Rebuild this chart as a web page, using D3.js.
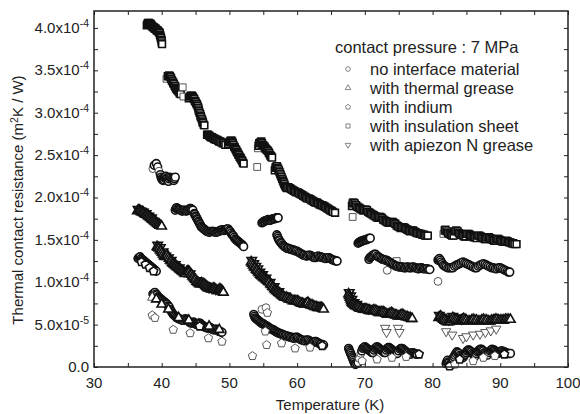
<!DOCTYPE html>
<html>
<head>
<meta charset="utf-8">
<script src="https://cdn.jsdelivr.net/npm/d3@7"></script>
<style>
  body { margin: 0; background: #fff; }
  text { font-family: "Liberation Sans", Arial, sans-serif; fill: #222; }
</style>
</head>
<body>
<svg id="chart" width="580" height="414"></svg>
<script>
// resistance values are in units of 1e-4 m2K/W, temperature in K
var xTicks = [30, 40, 50, 60, 70, 80, 90, 100];
var yTicks = [0, 0.5, 1.0, 1.5, 2.0, 2.5, 3.0, 3.5, 4.0];

var legendTitle = "contact pressure : 7 MPa";
var seriesNames = ["no interface material", "with thermal grease", "with indium",
                   "with insulation sheet", "with apiezon N grease"];

var insulationSheet = [
  [37.8,4.03],[37.9,4.05],[38.0,4.06],[38.15,4.06],[38.3,4.05],[38.4,4.04],[38.5,4.03],[38.6,4.02],[38.7,4.01],[38.8,4.01],[38.9,4.00],[39.0,3.99],[39.1,3.99],[39.2,3.98],[39.3,3.97],[39.4,3.97],[39.5,3.96],[39.6,3.95],[39.7,3.94],[39.75,3.92],[39.8,3.91],[39.85,3.89],[39.9,3.88],[39.95,3.86],[40.0,3.85],[40.0,3.83],[40.05,3.81],
  [40.7,3.40],[40.9,3.43],[41.1,3.44],[41.2,3.43],[41.3,3.42],[41.4,3.40],[41.5,3.38],[41.6,3.37],[41.7,3.35],[41.8,3.34],[41.9,3.32],[42.0,3.31],[42.1,3.29],[42.2,3.28],[42.3,3.27],[42.4,3.26],[42.5,3.25],[42.65,3.23],[42.8,3.22],[43.1,3.30],[43.2,3.19],
  [44.0,3.17],[44.15,3.19],[44.3,3.20],[44.45,3.20],[44.6,3.19],[44.7,3.17],[44.8,3.16],[44.9,3.14],[45.0,3.13],[45.1,3.11],[45.2,3.10],[45.3,3.08],[45.4,3.06],[45.45,3.04],[45.5,3.02],[45.6,3.00],[45.7,2.98],[45.75,2.96],[45.8,2.95],[45.9,2.93],[46.0,2.91],[46.05,2.89],[46.1,2.88],[46.2,2.86],[46.3,2.85],
  [46.7,2.74],[46.85,2.74],[47.0,2.73],[47.15,2.72],[47.3,2.71],[47.45,2.71],[47.6,2.70],[47.75,2.69],[47.9,2.69],[48.05,2.68],[48.2,2.68],[48.35,2.67],[48.5,2.66],[48.65,2.66],[48.8,2.65],[49.0,2.64],[49.2,2.64],[49.4,2.62],
  [49.8,2.63],[49.95,2.65],[50.1,2.66],[50.2,2.67],[50.3,2.67],[50.4,2.66],[50.5,2.64],[50.6,2.62],[50.7,2.60],[50.8,2.59],[50.9,2.57],[51.0,2.56],[51.1,2.54],[51.2,2.53],[51.3,2.51],[51.4,2.50],[51.5,2.48],[51.6,2.47],[51.7,2.46],[51.8,2.44],[51.9,2.43],[52.0,2.41],[52.1,2.40],
  [54.1,2.36],
  [54.2,2.58],[54.3,2.61],[54.4,2.64],[54.55,2.65],[54.7,2.66],[54.8,2.64],[54.9,2.62],[55.05,2.61],[55.2,2.60],[55.3,2.58],[55.4,2.57],[55.55,2.56],[55.7,2.55],[55.8,2.53],[55.9,2.52],[56.0,2.50],[56.1,2.49],[56.2,2.48],[56.3,2.47],
  [56.7,2.32],[56.8,2.35],[56.9,2.36],[57.0,2.37],[57.1,2.35],[57.2,2.34],[57.3,2.32],[57.4,2.30],[57.5,2.28],[57.6,2.26],[57.7,2.24],[57.8,2.22],[57.9,2.20],[58.0,2.18],[58.1,2.16],[58.2,2.14],[58.35,2.12],[58.5,2.11],
  [58.7,2.12],[58.9,2.11],[59.1,2.10],[59.3,2.09],[59.5,2.08],[59.7,2.07],[59.9,2.06],[60.1,2.06],[60.3,2.05],[60.5,2.04],[60.7,2.03],[60.9,2.02],[61.1,2.01],[61.3,2.00],[61.5,1.99],[61.7,1.99],[61.9,1.98],[62.1,1.97],[62.3,1.96],[62.5,1.95],[62.7,1.94],[62.9,1.94],[63.1,1.93],[63.3,1.92],[63.5,1.91],[63.7,1.91],[63.9,1.90],[64.1,1.89],[64.3,1.88],[64.5,1.87],[64.7,1.86],[64.9,1.85],[65.1,1.84],[65.3,1.83],[65.6,1.82],
  [68.2,1.77],[68.1,1.90],[68.2,1.93],[68.3,1.94],[68.5,1.93],[68.7,1.91],[68.9,1.89],[69.1,1.88],[69.3,1.87],[69.5,1.86],[69.7,1.85],[69.9,1.85],[70.1,1.86],[70.3,1.85],[70.5,1.83],[70.7,1.82],[70.9,1.81],[71.1,1.80],[71.3,1.79],[71.5,1.78],[71.7,1.77],[71.9,1.76],[72.1,1.77],[72.3,1.77],[72.5,1.76],[72.7,1.74],[72.9,1.73],[73.1,1.72],[73.3,1.71],[73.5,1.70],[73.7,1.70],[73.9,1.71],[74.1,1.71],[74.3,1.70],[74.5,1.69],[74.7,1.67],[74.9,1.66],[75.1,1.65],[75.3,1.64],[75.5,1.65],[75.7,1.65],[75.9,1.64],[76.1,1.63],[76.3,1.62],[76.5,1.61],[76.7,1.60],[76.9,1.61],[77.1,1.61],[77.3,1.60],[77.5,1.59],[77.7,1.58],[77.9,1.58],[78.1,1.57],[78.3,1.57],[78.5,1.56],[78.7,1.56],[78.9,1.55],[79.1,1.55],[79.3,1.55],
  [74.7,1.25],
  [81.6,1.57],[81.8,1.61],[81.9,1.62],[82.1,1.60],[82.3,1.58],[82.5,1.57],[82.7,1.56],[82.9,1.55],[83.1,1.55],[83.3,1.60],[83.5,1.61],[83.7,1.60],[83.9,1.58],[84.1,1.57],[84.3,1.56],[84.5,1.55],[84.7,1.54],[84.9,1.54],[85.1,1.57],[85.3,1.57],[85.5,1.56],[85.7,1.55],[85.9,1.54],[86.1,1.53],[86.3,1.53],[86.5,1.52],[86.7,1.55],[86.9,1.55],[87.1,1.54],[87.3,1.53],[87.5,1.52],[87.7,1.51],[87.9,1.51],[88.1,1.53],[88.3,1.53],[88.5,1.52],[88.7,1.51],[88.9,1.50],[89.1,1.49],[89.3,1.49],[89.5,1.51],[89.7,1.51],[89.9,1.50],[90.1,1.49],[90.3,1.48],[90.5,1.48],[90.7,1.48],[90.9,1.49],[91.1,1.48],[91.3,1.47],[91.5,1.47],[91.7,1.46],[91.9,1.46],[92.1,1.45],[92.4,1.45]
];

var noInterface = [
  [38.7,2.34],[38.9,2.38],[39.2,2.40],[39.4,2.36],[39.6,2.31],[39.8,2.27],[39.9,2.24],[40.0,2.22],[40.1,2.21],[40.2,2.20],[40.3,2.21],[40.4,2.23],[40.5,2.24],[40.6,2.25],[40.7,2.23],[40.8,2.22],[40.9,2.20],[41.0,2.19],[41.1,2.22],[41.2,2.24],[41.35,2.23],[41.5,2.22],[41.65,2.21],[41.8,2.20],[41.9,2.22],[42.0,2.24],
  [42.0,1.85],[42.1,1.87],[42.2,1.88],[42.35,1.87],[42.5,1.86],[42.65,1.86],[42.8,1.85],[42.95,1.84],[43.1,1.84],[43.25,1.85],[43.4,1.85],[43.55,1.84],[43.7,1.84],[43.85,1.85],[44.0,1.86],[44.15,1.87],[44.3,1.87],[44.45,1.86],[44.6,1.85],
  [44.8,1.81],[44.9,1.80],[45.0,1.78],[45.1,1.77],[45.2,1.75],[45.3,1.74],[45.4,1.72],[45.5,1.71],[45.6,1.69],[45.7,1.68],[45.8,1.66],[45.9,1.65],[46.05,1.64],[46.2,1.63],[46.35,1.62],[46.5,1.61],[46.65,1.60],[46.8,1.60],[46.95,1.59],[47.1,1.59],[47.25,1.60],[47.4,1.60],
  [47.55,1.60],[47.7,1.60],[47.85,1.59],[48.0,1.59],[48.15,1.59],[48.3,1.60],[48.45,1.60],[48.6,1.61],[48.75,1.61],[48.9,1.62],[49.05,1.61],[49.2,1.61],[49.35,1.62],[49.5,1.62],[49.65,1.63],[49.8,1.63],
  [49.95,1.61],[50.1,1.60],[50.25,1.58],[50.4,1.56],[50.55,1.55],[50.7,1.53],[50.85,1.51],[51.0,1.50],[51.15,1.49],[51.3,1.48],[51.45,1.47],[51.6,1.46],[51.75,1.45],[51.9,1.44],[52.0,1.43],[52.1,1.42],
  [54.8,1.70],[54.95,1.71],[55.1,1.72],[55.25,1.72],[55.4,1.73],[55.55,1.73],[55.7,1.74],[55.85,1.73],[56.0,1.73],[56.15,1.74],[56.3,1.74],[56.45,1.75],[56.6,1.75],[56.75,1.75],[56.9,1.76],[57.05,1.76],[57.2,1.76],
  [57.0,1.56],[57.1,1.54],[57.2,1.52],[57.3,1.50],[57.4,1.49],[57.55,1.47],[57.7,1.46],[57.85,1.44],[58.0,1.43],[58.15,1.42],[58.3,1.41],[58.5,1.40],[58.7,1.40],[58.9,1.39],[59.1,1.39],[59.3,1.38],[59.5,1.38],[59.7,1.37],[59.9,1.37],[60.1,1.36],[60.3,1.35],[60.5,1.34],[60.7,1.33],[60.9,1.32],[61.1,1.32],[61.3,1.31],[61.5,1.31],[61.7,1.32],[61.9,1.32],[62.1,1.31],[62.3,1.30],[62.5,1.29],[62.7,1.29],[62.9,1.30],[63.1,1.31],[63.3,1.30],[63.5,1.30],[63.7,1.29],[63.9,1.29],[64.1,1.28],[64.3,1.28],[64.5,1.29],[64.7,1.29],[64.9,1.28],[65.1,1.27],[65.3,1.26],[65.5,1.26],[65.7,1.25],[65.9,1.25],
  [69.0,1.46],[69.15,1.47],[69.3,1.48],[69.45,1.48],[69.6,1.49],[69.75,1.49],[69.9,1.50],[70.05,1.50],[70.2,1.50],[70.35,1.51],[70.5,1.51],[70.65,1.52],[70.8,1.52],
  [73.3,1.14],
  [70.6,1.27],[70.75,1.29],[70.9,1.30],[71.05,1.31],[71.2,1.32],[71.4,1.33],[71.6,1.33],[71.8,1.31],[72.0,1.30],[72.2,1.29],[72.4,1.28],[72.6,1.27],[72.8,1.27],[73.0,1.26],[73.2,1.26],[73.4,1.25],[73.6,1.24],[73.8,1.23],[74.0,1.22],[74.2,1.21],[74.4,1.20],[74.6,1.19],[74.8,1.19],[75.0,1.18],[75.2,1.18],[75.4,1.18],[75.6,1.18],[75.8,1.17],[76.0,1.17],[76.2,1.18],[76.4,1.18],[76.6,1.17],[76.8,1.17],[77.0,1.18],[77.2,1.18],[77.4,1.17],[77.6,1.17],[77.8,1.16],[78.0,1.16],[78.2,1.17],[78.4,1.17],[78.6,1.16],[78.8,1.16],[79.0,1.16],[79.2,1.16],[79.4,1.15],[79.6,1.15],
  [80.8,1.01],
  [80.8,1.26],[80.9,1.27],[81.0,1.28],[81.15,1.26],[81.3,1.24],[81.45,1.22],[81.6,1.20],[81.8,1.19],[82.0,1.18],[82.25,1.17],[82.5,1.17],[82.75,1.17],[83.0,1.17],[83.25,1.19],[83.5,1.20],[83.75,1.21],[84.0,1.22],[84.25,1.23],[84.5,1.24],[84.75,1.23],[85.0,1.22],[85.25,1.21],[85.5,1.20],[85.75,1.19],[86.0,1.18],[86.25,1.17],[86.5,1.17],[86.75,1.19],[87.0,1.20],[87.25,1.21],[87.5,1.22],[87.75,1.21],[88.0,1.20],[88.25,1.19],[88.5,1.18],[88.75,1.17],[89.0,1.17],[89.25,1.16],[89.5,1.16],[89.75,1.17],[90.0,1.17],[90.25,1.16],[90.5,1.15],[90.75,1.14],[91.0,1.13],[91.2,1.12],[91.4,1.12],
  [36.5,1.28],[36.65,1.29],[36.8,1.30],[36.95,1.28],[37.1,1.27],[37.25,1.26],[37.4,1.25],[37.55,1.24],[37.7,1.23],[37.85,1.22],[38.0,1.21],[38.15,1.20],[38.3,1.19],[38.45,1.18],[38.6,1.17],[38.75,1.16],[38.9,1.15],[39.05,1.14],[39.2,1.13],
  [38.7,0.86],[38.85,0.87],[39.0,0.88],[39.15,0.86],[39.3,0.85],[39.45,0.83],[39.6,0.82],[39.75,0.81],[39.9,0.80],[40.05,0.79],[40.2,0.78],[40.35,0.77],[40.5,0.76],[40.65,0.75],[40.8,0.74],[40.95,0.72],[41.1,0.71],[41.25,0.68],[41.4,0.66],[41.55,0.64],[41.7,0.62],[41.85,0.61],[42.0,0.60],[42.15,0.59],[42.3,0.58],[42.45,0.57],[42.6,0.57],[42.75,0.56],[42.9,0.56],[43.05,0.55],[43.2,0.55],[43.35,0.56],[43.5,0.57],[43.65,0.56],[43.8,0.55],[43.95,0.54],[44.1,0.53],[44.25,0.52],[44.4,0.52],[44.55,0.52],[44.7,0.53],[44.85,0.52],[45.0,0.51],[45.15,0.50],[45.3,0.50],[45.45,0.51],[45.6,0.52],[45.75,0.51],[45.9,0.50],[46.05,0.49],[46.2,0.48],[46.35,0.47],[46.5,0.47],[46.65,0.46],[46.8,0.46],[46.95,0.46],[47.1,0.47],[47.25,0.46],[47.4,0.45],[47.55,0.44],[47.7,0.44],[47.85,0.44],[48.0,0.45],[48.15,0.44],[48.3,0.43],[48.45,0.42],[48.6,0.42],[48.75,0.41],[48.9,0.41],
  [54.8,0.68],[55.4,0.70],
  [53.6,0.62],[53.7,0.60],[53.8,0.58],[53.95,0.57],[54.1,0.56],[54.25,0.55],[54.4,0.54],[54.55,0.53],[54.7,0.52],[54.85,0.51],[55.0,0.51],[55.15,0.50],[55.3,0.49],[55.45,0.48],[55.6,0.48],[55.75,0.47],[55.9,0.46],[56.05,0.45],[56.2,0.45],[56.35,0.44],[56.5,0.44],[56.65,0.43],[56.8,0.42],[56.95,0.41],[57.1,0.41],[57.25,0.40],[57.4,0.40],[57.55,0.39],[57.7,0.39],[57.85,0.38],[58.0,0.38],[58.2,0.37],[58.4,0.37],[58.6,0.36],[58.8,0.36],[59.0,0.35],[59.2,0.35],[59.4,0.34],[59.6,0.34],[59.8,0.35],[60.0,0.35],[60.2,0.34],[60.4,0.33],[60.6,0.32],[60.8,0.32],[61.0,0.31],[61.2,0.31],[61.4,0.32],[61.6,0.32],[61.8,0.31],[62.0,0.30],[62.2,0.29],[62.4,0.29],[62.6,0.30],[62.8,0.30],[63.0,0.29],[63.2,0.28],[63.4,0.27],[63.6,0.27],[63.8,0.26],[63.9,0.26],
  [67.6,0.22],[67.7,0.20],[67.8,0.18],[67.9,0.16],[68.0,0.14],[68.1,0.12],[68.2,0.10],[68.3,0.08],[68.4,0.06],[68.5,0.04],[68.6,0.03],[68.8,0.04],[69.0,0.05],[69.2,0.10],[69.4,0.16],[69.55,0.19],[69.7,0.22],[69.85,0.23],[70.0,0.24],[70.15,0.23],[70.3,0.22],[70.45,0.21],[70.6,0.20],[70.75,0.19],[70.9,0.18],[71.05,0.17],[71.2,0.17],[71.35,0.20],[71.5,0.22],[71.65,0.23],[71.8,0.24],[71.95,0.23],[72.1,0.22],[72.25,0.21],[72.4,0.20],[72.55,0.19],[72.7,0.18],[72.85,0.17],[73.0,0.17],[73.15,0.20],[73.3,0.22],[73.45,0.23],[73.6,0.23],[73.75,0.22],[73.9,0.21],[74.05,0.20],[74.2,0.19],[74.35,0.18],[74.5,0.17],[74.65,0.16],[74.8,0.16],[75.0,0.19],[75.2,0.21],[75.35,0.22],[75.5,0.22],[75.65,0.21],[75.8,0.20],[75.95,0.19],[76.1,0.18],[76.25,0.17],[76.4,0.16],[76.6,0.15],[76.8,0.15],[76.95,0.17],[77.1,0.17],[77.25,0.16],[77.4,0.16],[77.55,0.15],[77.7,0.15],
  [82.0,0.04],[82.1,0.06],[82.2,0.08],[82.3,0.06],[82.4,0.05],[82.55,0.03],[82.7,0.02],[82.85,0.06],[83.0,0.10],[83.15,0.12],[83.3,0.14],[83.45,0.16],[83.6,0.18],[83.75,0.17],[83.9,0.16],[84.05,0.14],[84.2,0.13],[84.35,0.12],[84.5,0.11],[84.65,0.13],[84.8,0.15],[84.95,0.17],[85.1,0.19],[85.25,0.20],[85.4,0.20],[85.55,0.19],[85.7,0.18],[85.85,0.16],[86.0,0.15],[86.15,0.14],[86.3,0.13],[86.45,0.16],[86.6,0.18],[86.75,0.19],[86.9,0.20],[87.05,0.21],[87.2,0.21],[87.35,0.20],[87.5,0.19],[87.65,0.17],[87.8,0.16],[87.95,0.15],[88.1,0.14],[88.3,0.17],[88.5,0.19],[88.65,0.20],[88.8,0.21],[88.95,0.20],[89.1,0.20],[89.25,0.19],[89.4,0.18],[89.55,0.17],[89.7,0.16],[89.85,0.17],[90.0,0.18],[90.15,0.19],[90.3,0.19],[90.45,0.18],[90.6,0.18],[90.75,0.17],[90.9,0.17],[91.05,0.16],[91.2,0.16],[91.35,0.16],[91.5,0.16]
];

var thermalGrease = [
  [36.4,1.84],[36.55,1.85],[36.7,1.85],[36.85,1.84],[37.0,1.83],[37.15,1.83],[37.3,1.82],[37.45,1.81],[37.6,1.80],[37.75,1.80],[37.9,1.79],[38.05,1.78],[38.2,1.77],[38.35,1.76],[38.5,1.75],[38.65,1.74],[38.8,1.73],[38.95,1.72],[39.1,1.71],[39.25,1.70],[39.4,1.69],[39.55,1.68],[39.7,1.67],[39.85,1.67],[40.0,1.66],
  [39.3,1.42],[39.45,1.41],[39.6,1.40],[39.75,1.38],[39.9,1.37],[40.05,1.35],[40.2,1.33],[40.35,1.31],[40.5,1.30],[40.65,1.31],[40.8,1.32],[40.95,1.30],[41.1,1.28],[41.25,1.26],[41.4,1.25],[41.55,1.23],[41.7,1.22],[41.85,1.21],[42.0,1.20],[42.15,1.19],[42.3,1.18],[42.45,1.17],[42.6,1.16],[42.75,1.15],[42.9,1.14],[43.05,1.13],[43.2,1.12],[43.35,1.11],[43.5,1.10],[43.65,1.12],[43.8,1.13],[43.95,1.13],[44.1,1.12],[44.25,1.10],[44.4,1.09],[44.55,1.07],[44.7,1.06],[44.85,1.04],[45.0,1.03],[45.15,1.01],[45.3,1.00],[45.45,0.99],[45.6,0.98],[45.75,0.98],[45.9,0.99],[46.05,0.98],[46.2,0.98],[46.35,0.97],[46.5,0.96],[46.65,0.95],[46.8,0.94],[46.95,0.93],[47.1,0.93],[47.25,0.92],[47.4,0.92],[47.55,0.92],[47.7,0.93],[47.85,0.92],[48.0,0.91],[48.15,0.90],[48.3,0.90],[48.45,0.91],[48.6,0.92],[48.75,0.91],[48.9,0.90],[49.0,0.89],[49.1,0.88],
  [38.6,0.82],[39.2,0.80],[40.0,0.74],[41.0,0.68],[42.5,0.58],[44.0,0.55],[45.5,0.50],[47.0,0.48],[48.5,0.44],
  [53.2,1.24],[53.35,1.22],[53.5,1.20],[53.65,1.18],[53.8,1.17],[53.95,1.15],[54.1,1.14],[54.25,1.12],[54.4,1.11],[54.55,1.09],[54.7,1.08],[54.85,1.07],[55.0,1.06],[55.15,1.05],[55.3,1.04],[55.45,1.03],[55.6,1.02],[55.75,1.01],[55.9,1.00],[56.05,0.98],[56.2,0.97],[56.35,0.95],[56.5,0.94],[56.65,0.92],[56.8,0.91],[56.95,0.90],[57.1,0.89],[57.25,0.88],[57.4,0.87],[57.55,0.86],[57.7,0.85],[57.85,0.84],[58.0,0.83],[58.2,0.82],[58.4,0.82],[58.6,0.81],[58.8,0.80],[59.0,0.80],[59.2,0.79],[59.4,0.78],[59.6,0.78],[59.8,0.78],[60.0,0.78],[60.2,0.77],[60.4,0.76],[60.6,0.75],[60.8,0.75],[61.0,0.74],[61.2,0.74],[61.4,0.75],[61.6,0.76],[61.8,0.74],[62.0,0.73],[62.2,0.73],[62.4,0.72],[62.6,0.71],[62.8,0.71],[63.0,0.70],[63.2,0.70],[63.4,0.70],[63.6,0.70],[63.75,0.69],[63.9,0.68],
  [67.6,0.86],[67.7,0.84],[67.8,0.82],[67.9,0.80],[68.0,0.78],[68.1,0.76],[68.2,0.75],[68.35,0.74],[68.5,0.73],[68.65,0.72],[68.8,0.72],[68.95,0.71],[69.1,0.70],[69.3,0.69],[69.5,0.69],[69.7,0.68],[69.9,0.68],[70.1,0.68],[70.3,0.68],[70.5,0.67],[70.7,0.67],[70.9,0.66],[71.1,0.66],[71.3,0.67],[71.5,0.67],[71.7,0.66],[71.9,0.65],[72.1,0.64],[72.3,0.64],[72.5,0.65],[72.7,0.65],[72.9,0.64],[73.1,0.63],[73.3,0.62],[73.5,0.62],[73.7,0.63],[73.9,0.64],[74.1,0.63],[74.3,0.62],[74.5,0.61],[74.7,0.61],[74.9,0.60],[75.1,0.60],[75.3,0.61],[75.5,0.62],[75.7,0.61],[75.9,0.60],[76.1,0.59],[76.3,0.59],[76.5,0.58],[76.7,0.58],[76.85,0.57],[77.0,0.57],
  [80.9,0.58],[81.05,0.59],[81.2,0.60],[81.35,0.58],[81.5,0.57],[81.65,0.56],[81.8,0.55],[82.0,0.54],[82.2,0.53],[82.4,0.53],[82.6,0.54],[82.8,0.56],[83.0,0.58],[83.2,0.57],[83.4,0.56],[83.6,0.55],[83.8,0.54],[84.0,0.54],[84.2,0.55],[84.4,0.56],[84.6,0.57],[84.8,0.56],[85.0,0.55],[85.25,0.54],[85.5,0.54],[85.75,0.55],[86.0,0.56],[86.25,0.55],[86.5,0.55],[86.75,0.54],[87.0,0.54],[87.25,0.55],[87.5,0.56],[87.75,0.55],[88.0,0.55],[88.25,0.54],[88.5,0.54],[88.75,0.55],[89.0,0.55],[89.25,0.56],[89.5,0.56],[89.75,0.55],[90.0,0.55],[90.25,0.55],[90.5,0.55],[90.75,0.56],[91.0,0.56],[91.25,0.56],[91.5,0.56]
];

var indium = [
  [37.0,1.24],[37.6,1.21],[38.2,1.17],[38.8,1.13],
  [38.6,0.61],[39.0,0.58],[41.7,0.44],[44.2,0.40],[45.6,0.48],[46.9,0.34],[48.9,0.30],
  [53.4,0.13],[55.3,0.42],[55.6,0.64],[55.5,0.26],[57.7,0.28],[59.7,0.22],[61.9,0.23],[63.7,0.25],
  [69.6,0.07],[71.8,0.09],[74.0,0.11],[76.1,0.12],[78.0,0.15],
  [82.5,0.01],[83.3,0.03],[84.0,0.09],[86.0,0.07],[87.5,0.11],[89.2,0.13],[90.6,0.15]
];

var apiezon = [
  [36.5,1.86],[36.9,1.84],[37.3,1.83],[37.7,1.81],[38.1,1.78],[38.5,1.76],[38.9,1.72],
  [39.4,1.44],[39.8,1.41],[40.2,1.36],[40.6,1.31],[41.0,1.29],[41.4,1.26],[42.0,1.21],[42.6,1.17],[43.3,1.13],[44.2,1.10],[45.1,1.02],[46.0,0.97],[47.0,0.94],[48.0,0.92],
  [53.3,1.26],[53.6,1.22],[53.9,1.19],[54.2,1.16],[54.5,1.12],[54.9,1.09],[55.4,1.05],[56.0,1.00],[56.6,0.95],[57.3,0.89],[58.2,0.84],
  [67.7,0.88],[67.9,0.84],[68.1,0.80],[68.4,0.76],[68.8,0.74],[69.3,0.71],[69.9,0.70],[70.6,0.69],[71.5,0.68],
  [73.0,0.46],[73.2,0.41],[74.9,0.46],[75.1,0.41],
  [81.0,0.61],[81.4,0.59],[81.9,0.57],[82.4,0.56],[83.0,0.60],[83.6,0.58],[84.3,0.57],
  [82.0,0.42],[82.9,0.38],[84.5,0.34],[85.0,0.36],[86.0,0.38],[87.0,0.39],[87.8,0.41],[88.6,0.43],[89.4,0.45]
];

var svg = d3.select("#chart");
var mLeft = 94, mRight = 568, mTop = 11, mBottom = 367;

var x = d3.scaleLinear().domain([30, 100]).range([mLeft, mRight]);
var y = d3.scaleLinear().domain([0, 4.2]).range([mBottom, mTop]);

var ink = "#222";

// pentagon path
function pentagon(r) {
  var p = [];
  for (var i = 0; i < 5; i++) {
    var a = -Math.PI / 2 + i * 2 * Math.PI / 5;
    p.push([r * Math.cos(a), r * Math.sin(a)]);
  }
  return "M" + p.map(function(d){ return d[0].toFixed(2) + "," + d[1].toFixed(2); }).join("L") + "Z";
}

var shapes = {
  circle: function(s) { return d3.symbol().type(d3.symbolCircle).size(48 * s * s)(); },
  triangle: function(s) { return d3.symbol().type(d3.symbolTriangle).size(38 * s * s)(); },
  pentagon: function(s) { return pentagon(4.4 * s); },
  square: function(s) { return d3.symbol().type(d3.symbolSquare).size(46 * s * s)(); },
  down: function(s) { return d3.symbol().type(d3.symbolTriangle).size(38 * s * s)(); }
};

var series = [
  { name: seriesNames[3], data: insulationSheet, shape: "square" },
  { name: seriesNames[0], data: noInterface, shape: "circle" },
  { name: seriesNames[4], data: apiezon, shape: "down" },
  { name: seriesNames[1], data: thermalGrease, shape: "triangle" },
  { name: seriesNames[2], data: indium, shape: "pentagon" }
];

// count close neighbours (in pixels) over all series, so that dense runs are drawn heavier
var allPx = [];
series.forEach(function(s) {
  s.data.forEach(function(d) { allPx.push([x(d[0]), y(d[1])]); });
});
function crowd(px, py) {
  var n = 0;
  allPx.forEach(function(p) {
    var dx = p[0] - px, dy = p[1] - py;
    if (dx * dx + dy * dy < 16) n++;
  });
  return n - 1;
}

var plot = svg.append("g");

series.forEach(function(s) {
  var path = shapes[s.shape](1);
  plot.append("g").selectAll("path")
    .data(s.data)
    .enter().append("path")
    .attr("d", path)
    .attr("transform", function(d) {
      return "translate(" + x(d[0]) + "," + y(d[1]) + ")" + (s.shape === "down" ? " rotate(180)" : "");
    })
    .attr("fill", "#fff")
    .each(function(d) {
      var c = crowd(x(d[0]), y(d[1]));
      d3.select(this)
        .attr("stroke", c >= 2 ? "#111" : "#444")
        .attr("stroke-width", c >= 2 ? 1.6 : 0.9);
    });
});

// axes with inward ticks
var xMinor = d3.range(30, 101, 5);
var yMinor = d3.range(0, 4.21, 0.25);

svg.append("g").attr("transform", "translate(0," + mBottom + ")")
  .call(d3.axisBottom(x).tickValues(xMinor).tickSize(-4).tickFormat(""));
svg.append("g").attr("transform", "translate(0," + mTop + ")")
  .call(d3.axisTop(x).tickValues(xMinor).tickSize(-4).tickFormat(""));
svg.append("g").attr("transform", "translate(" + mLeft + ",0)")
  .call(d3.axisLeft(y).tickValues(yMinor).tickSize(-4).tickFormat(""));
svg.append("g").attr("transform", "translate(" + mRight + ",0)")
  .call(d3.axisRight(y).tickValues(yMinor).tickSize(-4).tickFormat(""));
svg.selectAll(".domain").remove();
svg.selectAll(".tick line").attr("stroke", ink).attr("stroke-width", 1);

svg.append("rect")
  .attr("x", mLeft).attr("y", mTop)
  .attr("width", mRight - mLeft).attr("height", mBottom - mTop)
  .attr("fill", "none").attr("stroke", ink).attr("stroke-width", 1.5);

// x tick labels
svg.append("g").selectAll("text")
  .data(xTicks).enter().append("text")
  .attr("x", function(d) { return x(d); })
  .attr("y", mBottom + 21)
  .attr("text-anchor", "middle")
  .style("font-size", "15px")
  .text(function(d) { return d; });

// y tick labels with superscript exponents
var yl = svg.append("g").selectAll("text")
  .data(yTicks).enter().append("text")
  .attr("x", mLeft - 5)
  .attr("y", function(d) { return y(d) + 5; })
  .attr("text-anchor", "end")
  .style("font-size", "15px");
yl.each(function(d) {
  var t = d3.select(this);
  if (d === 0) { t.text("0.0"); return; }
  var mant = d < 1 ? (d * 10).toFixed(1) : d.toFixed(1);
  var ex = d < 1 ? "-5" : "-4";
  t.append("tspan").text(mant + "x10");
  t.append("tspan").attr("dy", -6).style("font-size", "10.5px").text(ex);
});

// axis titles
svg.append("text")
  .attr("x", (mLeft + mRight) / 2 - 1)
  .attr("y", 410)
  .attr("text-anchor", "middle")
  .style("font-size", "15px")
  .text("Temperature (K)");

var yt = svg.append("text")
  .attr("transform", "translate(23,200) rotate(-90)")
  .attr("text-anchor", "middle")
  .style("font-size", "15px");
yt.append("tspan").text("Thermal contact resistance (m");
yt.append("tspan").attr("dy", -5).style("font-size", "10.5px").text("2");
yt.append("tspan").attr("dy", 5).text("K / W)");

// legend
var lg = svg.append("g");
lg.append("text").attr("x", 335).attr("y", 53).style("font-size", "16.5px").text(legendTitle);
var legendShapes = ["circle", "triangle", "pentagon", "square", "down"];
seriesNames.forEach(function(n, i) {
  var cy = 69 + i * 19;
  lg.append("path")
    .attr("d", shapes[legendShapes[i]](0.6))
    .attr("transform", "translate(348," + cy + ")" + (legendShapes[i] === "down" ? " rotate(180)" : ""))
    .attr("fill", "#fff").attr("stroke", "#666").attr("stroke-width", 0.8);
  lg.append("text").attr("x", 370).attr("y", cy + 5.5).style("font-size", "16.5px").text(n);
});
</script>
</body>
</html>
